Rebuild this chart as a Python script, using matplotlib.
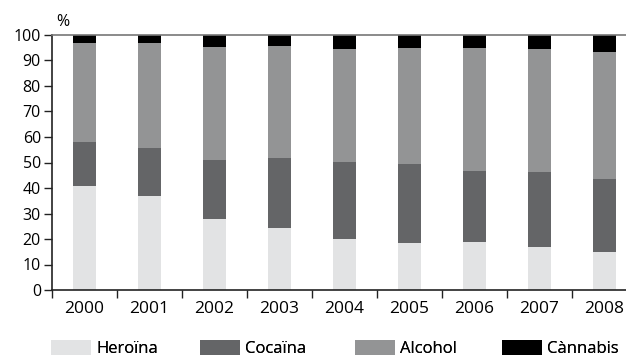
import matplotlib.pyplot as plt
import numpy as np

plt.rcParams['font.family'] = ['Open Sans', 'DejaVu Sans']

years = ['2000', '2001', '2002', '2003', '2004', '2005', '2006', '2007', '2008']
heroina = [40.9, 37.0, 27.8, 24.3, 20.0, 18.4, 18.8, 16.9, 14.9]
cocaina = [17.1, 18.8, 23.2, 27.6, 30.2, 31.0, 27.9, 29.4, 28.6]
alcohol = [39.0, 41.2, 44.4, 43.9, 44.3, 45.6, 48.3, 48.2, 49.8]
cannabis = [3.0, 3.0, 4.6, 4.2, 5.5, 5.0, 5.0, 5.5, 6.7]

labels = ['Heroïna', 'Cocaïna', 'Alcohol', 'Cànnabis']
colors = ['#e2e3e4', '#646567', '#939495', '#000000']
# left edge of each legend entry, in pixels
legend_x = [51, 200, 355, 502]

fig = plt.figure(figsize=(6.26, 3.59), dpi=100)
ax = fig.add_axes([52/626, 69/359, 1 - 52/626, 255/359])

x = np.arange(len(years))
bottom = np.zeros(len(years))
handles = []
for vals, lab, col in zip([heroina, cocaina, alcohol, cannabis], labels, colors):
    b = ax.bar(x, vals, width=0.35, bottom=bottom, color=col, label=lab, zorder=2)
    handles.append(b)
    bottom += np.array(vals)

ax.set_xlim(-0.5, -0.5 + 574/65)
ax.set_ylim(0, 100)
ax.set_yticks(range(0, 101, 10))
ax.set_xticks(x)
ax.set_xticklabels(years)
ax.set_xticks(np.arange(-0.5, 8, 1), minor=True)
ax.tick_params(axis='x', which='major', length=0, pad=8, labelsize=12.5)
ax.tick_params(axis='x', which='minor', length=6, width=1, color='#222222')
ax.tick_params(axis='y', length=6, width=1, pad=2, labelsize=11.5, color='#222222')

for s in ['left', 'bottom']:
    ax.spines[s].set_color('#222222')
    ax.spines[s].set_linewidth(1.2)
ax.spines['right'].set_visible(False)
ax.spines['top'].set_color('#777777')
ax.spines['top'].set_linewidth(1.2)

ax.text(0.008, 1.02, '%', transform=ax.transAxes, fontsize=11.5, ha='left', va='bottom')

# one legend per entry so the spacing follows the reference
for h, lab, lx in zip(handles, labels, legend_x):
    leg = fig.legend([h], [lab], loc='center left', bbox_to_anchor=(lx/626, 0.03),
                     frameon=False, fontsize=12, handlelength=2.4, handleheight=1.0,
                     handletextpad=0.3, borderpad=0, borderaxespad=0)
    fig.add_artist(leg)

fig.savefig('out.png', dpi=100)
